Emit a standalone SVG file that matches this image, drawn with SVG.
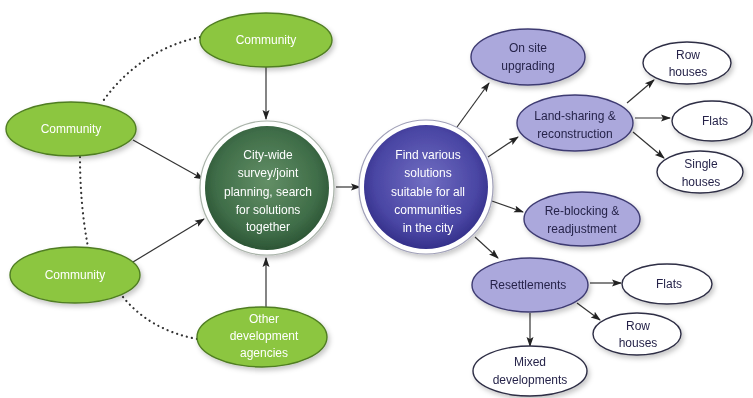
<svg xmlns="http://www.w3.org/2000/svg" width="753" height="398" viewBox="0 0 753 398">
<defs>
<filter id="sh" x="-20%" y="-20%" width="150%" height="150%">
<feDropShadow dx="2" dy="3" stdDeviation="2.5" flood-color="#000" flood-opacity="0.22"/>
</filter>
<radialGradient id="gg" cx="50%" cy="45%" r="55%">
<stop offset="0" stop-color="#638f66"/>
<stop offset="0.75" stop-color="#3f6d48"/>
<stop offset="1" stop-color="#2c5535"/>
</radialGradient>
<radialGradient id="pg" cx="50%" cy="45%" r="55%">
<stop offset="0" stop-color="#716ec2"/>
<stop offset="0.75" stop-color="#4a46a4"/>
<stop offset="1" stop-color="#34308a"/>
</radialGradient>
<marker id="ah" viewBox="0 0 10 10" refX="9" refY="5" markerWidth="10" markerHeight="10" orient="auto" markerUnits="userSpaceOnUse">
<path d="M0,1.5 L10,5 L0,8.5 L2,5 Z" fill="#222"/>
</marker>
</defs>
<style>
.g{fill:#8cc63f;stroke:#4f7d22;stroke-width:1.4}
.l{fill:#aba8dc;stroke:#3e3b72;stroke-width:1.4}
.w{fill:#ffffff;stroke:#2d2d44;stroke-width:1.4}
.t{font-family:"Liberation Sans",Arial,sans-serif;font-size:12px;text-anchor:middle}
.tw{fill:#ffffff}
.td{fill:#26244a}
.c{stroke:#333;stroke-width:1.2;fill:none;marker-end:url(#ah)}
.d{stroke:#333;stroke-width:2.2;fill:none;stroke-dasharray:0.1 5;stroke-linecap:round}
</style>
<rect width="753" height="398" fill="#ffffff"/>
<g id="connectors">
<path class="d" d="M200,37 Q140,50 103,101"/>
<path class="d" d="M80,157 Q80,205 88,247"/>
<path class="d" d="M123,297 Q150,330 197,339"/>
<line class="c" x1="266" y1="67" x2="266" y2="119"/>
<line class="c" x1="133" y1="140" x2="203" y2="179"/>
<line class="c" x1="133" y1="262" x2="204" y2="219"/>
<line class="c" x1="266" y1="307" x2="266" y2="258"/>
<line class="c" x1="336" y1="187" x2="360" y2="187" stroke-width="2.2"/>
<line class="c" x1="457" y1="127" x2="489" y2="83"/>
<line class="c" x1="488" y1="157" x2="518" y2="137"/>
<line class="c" x1="489" y1="200" x2="523" y2="212"/>
<line class="c" x1="475" y1="237" x2="498" y2="258"/>
<line class="c" x1="627" y1="103" x2="654" y2="80"/>
<line class="c" x1="635" y1="118" x2="670" y2="118"/>
<line class="c" x1="633" y1="132" x2="664" y2="158"/>
<line class="c" x1="590" y1="283" x2="621" y2="283"/>
<line class="c" x1="577" y1="303" x2="600" y2="320"/>
<line class="c" x1="530" y1="313" x2="530" y2="346"/>
</g>
<g id="community-top" filter="url(#sh)">
<ellipse class="g" cx="266" cy="40" rx="66" ry="27"/>
<text class="t tw" x="266" y="44">Community</text>
</g>
<g id="community-left" filter="url(#sh)">
<ellipse class="g" cx="71" cy="129" rx="65" ry="27"/>
<text class="t tw" x="71" y="133">Community</text>
</g>
<g id="community-bottom" filter="url(#sh)">
<ellipse class="g" cx="75" cy="275" rx="65" ry="28"/>
<text class="t tw" x="75" y="279">Community</text>
</g>
<g id="other-agencies" filter="url(#sh)">
<ellipse class="g" cx="262" cy="337" rx="65" ry="30"/>
<text class="t tw" x="264" y="323">Other</text>
<text class="t tw" x="264" y="340">development</text>
<text class="t tw" x="264" y="357">agencies</text>
</g>
<g id="city-wide" filter="url(#sh)">
<circle cx="267" cy="188" r="67" fill="#ffffff" stroke="#a9b3a9" stroke-width="1.2"/>
<circle cx="267" cy="188" r="62" fill="url(#gg)"/>
<text class="t tw" x="268" y="159">City-wide</text>
<text class="t tw" x="268" y="177">survey/joint</text>
<text class="t tw" x="268" y="196">planning, search</text>
<text class="t tw" x="268" y="214">for solutions</text>
<text class="t tw" x="268" y="231">together</text>
</g>
<g id="find-solutions" filter="url(#sh)">
<circle cx="426" cy="187" r="67" fill="#ffffff" stroke="#a0a0b8" stroke-width="1.2"/>
<circle cx="426" cy="187" r="62" fill="url(#pg)"/>
<text class="t tw" x="428" y="159">Find various</text>
<text class="t tw" x="428" y="177">solutions</text>
<text class="t tw" x="428" y="196">suitable for all</text>
<text class="t tw" x="428" y="214">communities</text>
<text class="t tw" x="428" y="232">in the city</text>
</g>
<g id="on-site" filter="url(#sh)">
<ellipse class="l" cx="528" cy="57" rx="57" ry="28"/>
<text class="t td" x="528" y="52">On site</text>
<text class="t td" x="528" y="70">upgrading</text>
</g>
<g id="land-sharing" filter="url(#sh)">
<ellipse class="l" cx="575" cy="123" rx="58" ry="28"/>
<text class="t td" x="575" y="120">Land-sharing &amp;</text>
<text class="t td" x="575" y="138">reconstruction</text>
</g>
<g id="row-houses-1" filter="url(#sh)">
<ellipse class="w" cx="687" cy="63" rx="44" ry="21"/>
<text class="t td" x="688" y="59">Row</text>
<text class="t td" x="688" y="76">houses</text>
</g>
<g id="flats-1" filter="url(#sh)">
<ellipse class="w" cx="712" cy="121" rx="40" ry="20"/>
<text class="t td" x="715" y="125">Flats</text>
</g>
<g id="single-houses" filter="url(#sh)">
<ellipse class="w" cx="700" cy="172" rx="43" ry="21"/>
<text class="t td" x="701" y="168">Single</text>
<text class="t td" x="701" y="186">houses</text>
</g>
<g id="re-blocking" filter="url(#sh)">
<ellipse class="l" cx="582" cy="219" rx="58" ry="27"/>
<text class="t td" x="582" y="215">Re-blocking &amp;</text>
<text class="t td" x="582" y="233">readjustment</text>
</g>
<g id="resettlements" filter="url(#sh)">
<ellipse class="l" cx="530" cy="285" rx="58" ry="27"/>
<text class="t td" x="528" y="289">Resettlements</text>
</g>
<g id="flats-2" filter="url(#sh)">
<ellipse class="w" cx="667" cy="284" rx="45" ry="20"/>
<text class="t td" x="669" y="288">Flats</text>
</g>
<g id="row-houses-2" filter="url(#sh)">
<ellipse class="w" cx="637" cy="334" rx="44" ry="21"/>
<text class="t td" x="638" y="330">Row</text>
<text class="t td" x="638" y="347">houses</text>
</g>
<g id="mixed" filter="url(#sh)">
<ellipse class="w" cx="530" cy="371" rx="57" ry="25"/>
<text class="t td" x="530" y="366">Mixed</text>
<text class="t td" x="530" y="384">developments</text>
</g>
</svg>
